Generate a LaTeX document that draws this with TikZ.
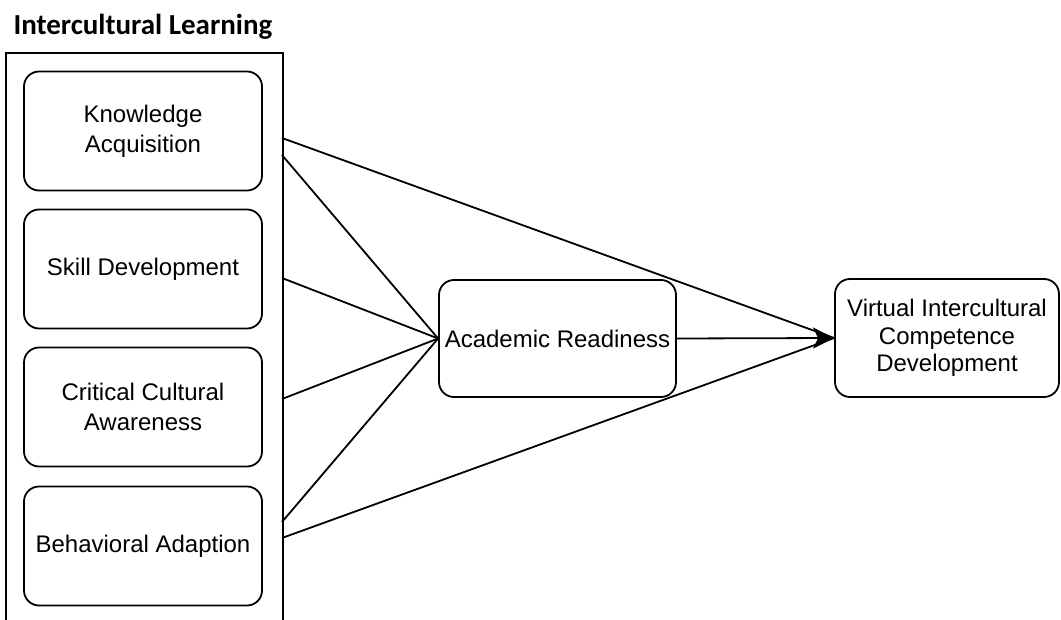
\documentclass[tikz,border=0pt]{standalone}
\usepackage{fontspec}
\setmainfont{Liberation Sans}
\newfontfamily\titlefont{Carlito}
\usetikzlibrary{arrows.meta}
\begin{document}
\begin{tikzpicture}[x=1pt,y=-1pt,
  box/.style={draw,line width=1.8pt,rounded corners=15pt,align=center,
    font=\fontsize{24}{30}\selectfont,inner sep=0pt},
  conn/.style={line width=1.8pt},
  arr/.style={line width=1.8pt,-{Stealth[length=21pt,width=21pt,inset=5pt]}}]
\useasboundingbox (0,0) rectangle (1061,620);
\node[font=\titlefont\bfseries\fontsize{29}{33}\selectfont,anchor=west] (title) at (10,27) {Intercultural Learning};
\begin{scope}
\clip (0,0) rectangle (1061,620);
\node[draw,line width=1.8pt,minimum width=277pt,minimum height=600pt,anchor=north west,inner sep=0pt] (outer) at (5,52) {};
\end{scope}
\node[box,minimum width=238pt,minimum height=119pt] (ka) at (143,131) {Knowledge\\Acquisition};
\node[box,minimum width=238pt,minimum height=119pt] (sd) at (143,269) {Skill Development};
\node[box,minimum width=238pt,minimum height=119pt] (cca) at (143,407) {Critical Cultural\\Awareness};
\node[box,minimum width=238pt,minimum height=119pt] (ba) at (143,546) {Behavioral Adaption};
\node[box,minimum width=237pt,minimum height=117pt] (ar) at (557.5,338.5) {Academic Readiness};
\node[box,minimum width=224pt,minimum height=118pt,font=\fontsize{24}{27.5}\selectfont] (vic) at (947,338) {\raisebox{0pt}{Virtual Intercultural}\\Competence\\Development};
\coordinate (k1) at (282,138);
\coordinate (k2) at (282,155);
\coordinate (s1) at (282,278);
\coordinate (c1) at (282,399);
\coordinate (b1) at (282,522);
\coordinate (b2) at (282,538);
\draw[conn] (k1) -- (vic.west);
\draw[conn] (b2) -- (vic.west);
\draw[conn] (k2) -- (ar.west);
\draw[conn] (s1) -- (ar.west);
\draw[conn] (c1) -- (ar.west);
\draw[conn] (b1) -- (ar.west);
\draw[arr] (ar.east) -- (vic.west);
\end{tikzpicture}
\end{document}
